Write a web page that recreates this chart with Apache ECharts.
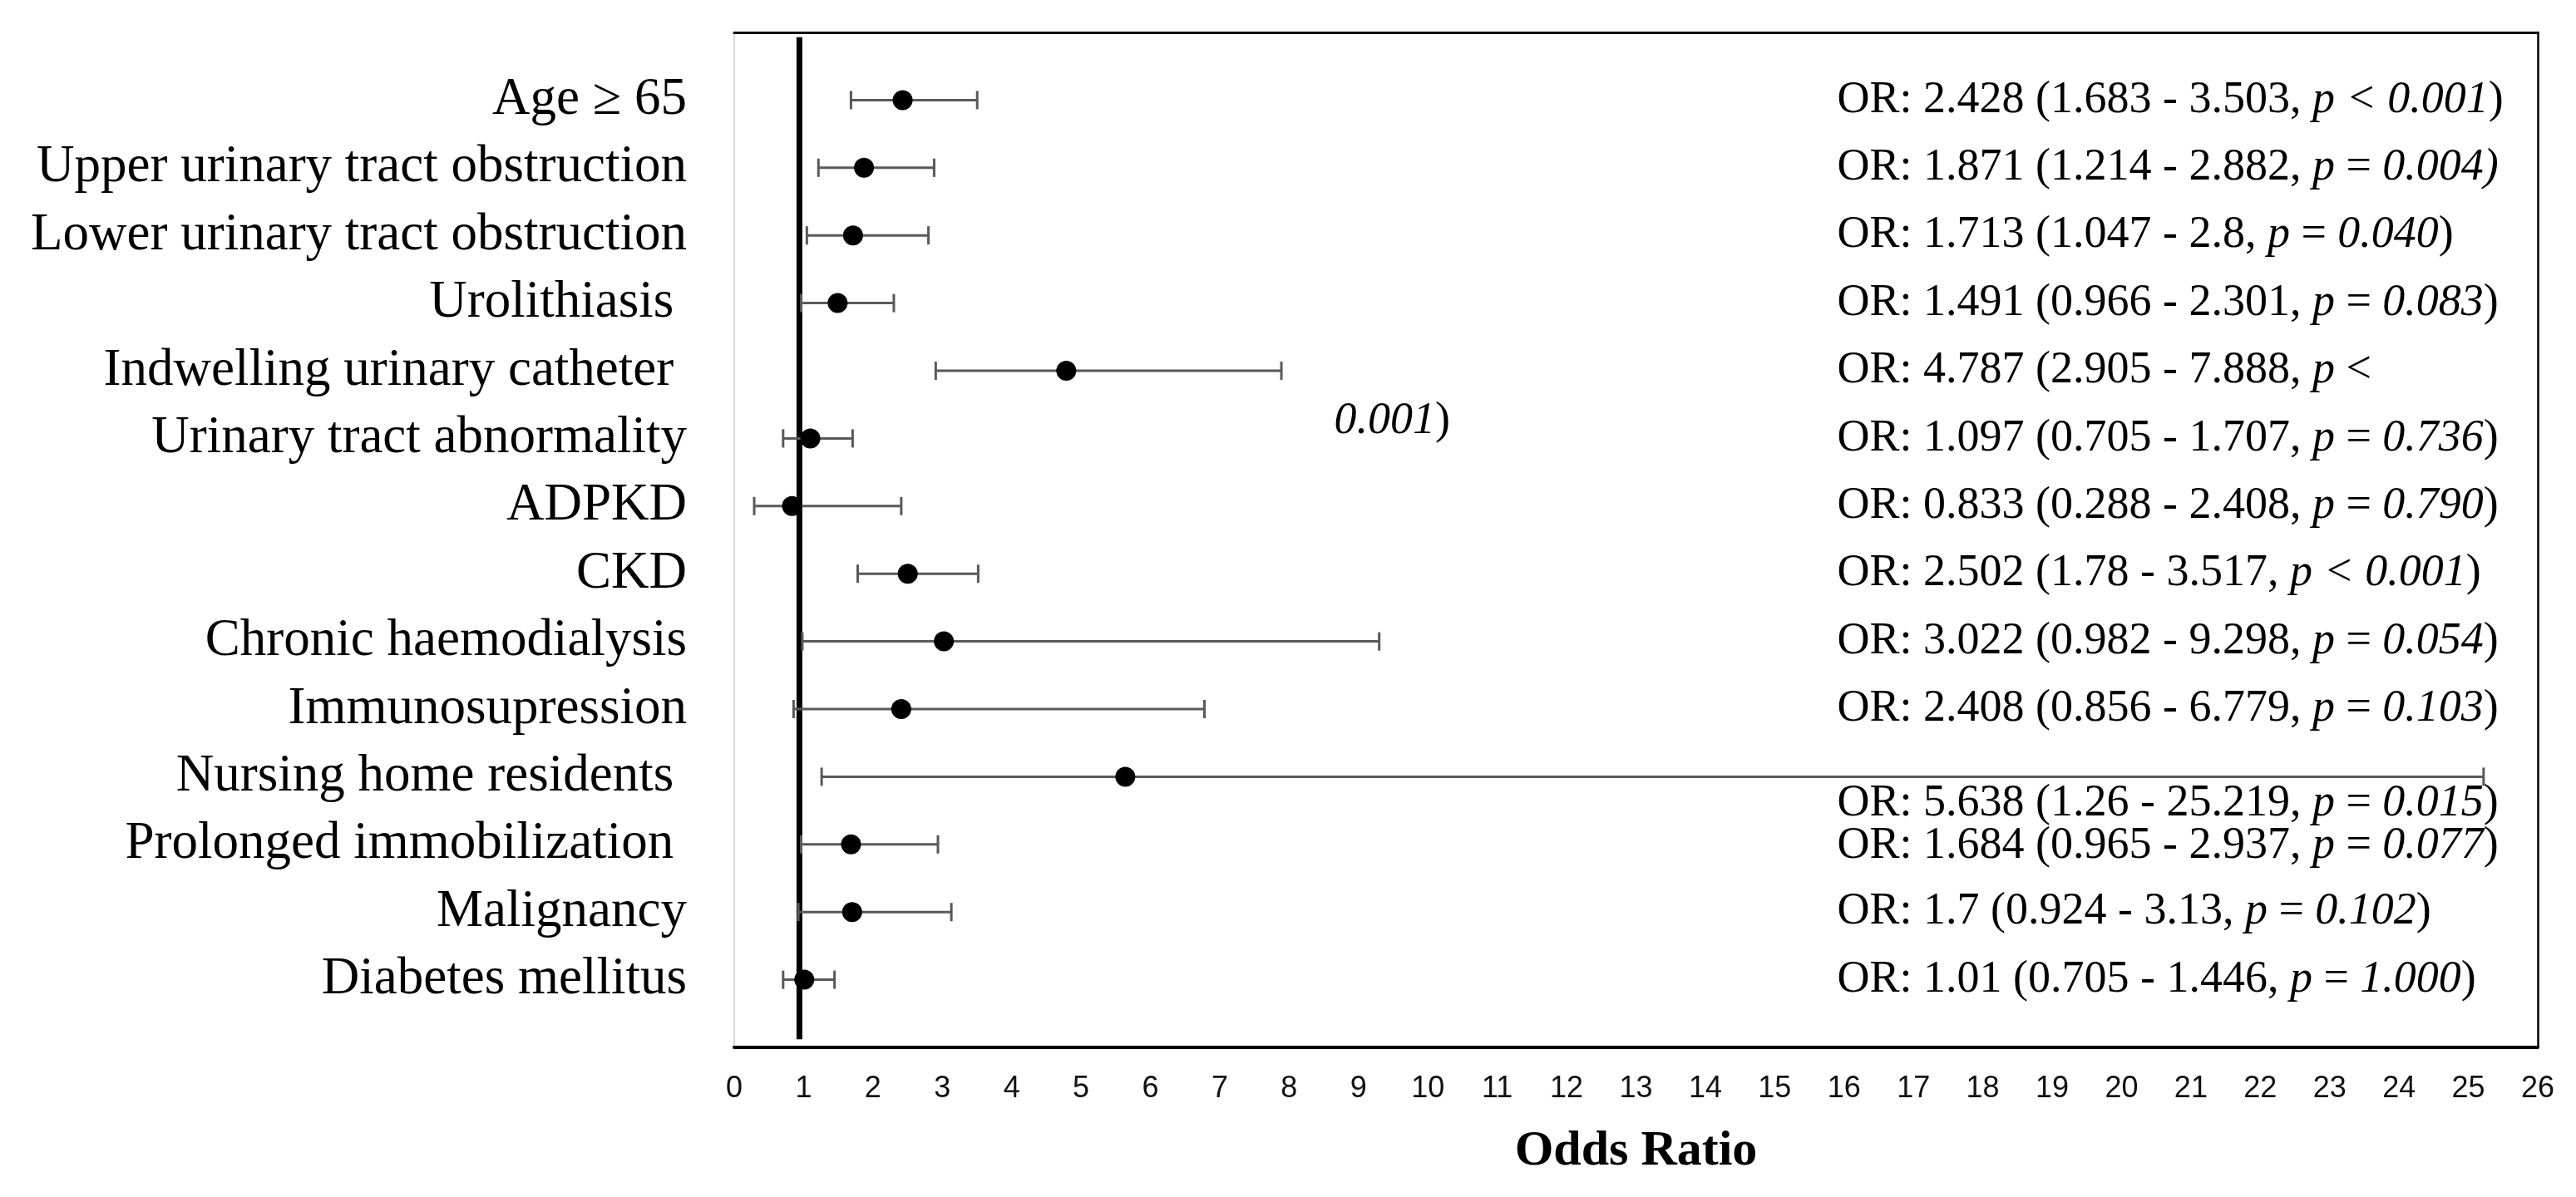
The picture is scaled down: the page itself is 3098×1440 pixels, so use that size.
<!DOCTYPE html>
<html>
<head>
<meta charset="utf-8">
<script src="https://cdn.jsdelivr.net/npm/echarts@6/dist/echarts.min.js"></script>
<style>
html,body{margin:0;padding:0;background:#fff;}
#chart{width:3098px;height:1440px;}
</style>
</head>
<body>
<div id="chart"></div>
<script>
// ---- data ----
const categories = [
  'Age \u2265 65',
  'Upper urinary tract obstruction',
  'Lower urinary tract obstruction',
  'Urolithiasis ',
  'Indwelling urinary catheter ',
  'Urinary tract abnormality',
  'ADPKD',
  'CKD',
  'Chronic haemodialysis',
  'Immunosupression',
  'Nursing home residents ',
  'Prolonged immobilization ',
  'Malignancy',
  'Diabetes mellitus'
];
const orValues = [2.428, 1.871, 1.713, 1.491, 4.787, 1.097, 0.833, 2.502, 3.022, 2.408, 5.638, 1.684, 1.7, 1.01];
const ciLow    = [1.683, 1.214, 1.047, 0.966, 2.905, 0.705, 0.288, 1.78, 0.982, 0.856, 1.26, 0.965, 0.924, 0.705];
const ciHigh   = [3.503, 2.882, 2.8, 2.301, 7.888, 1.707, 2.408, 3.517, 9.298, 6.779, 25.219, 2.937, 3.13, 1.446];
const orLabels = [
  'OR: 2.428 (1.683 - 3.503, {i|p < 0.001})',
  'OR: 1.871 (1.214 - 2.882, {i|p} = {i|0.004)}',
  'OR: 1.713 (1.047 - 2.8, {i|p} = {i|0.040})',
  'OR: 1.491 (0.966 - 2.301, {i|p} = {i|0.083})',
  'OR: 4.787 (2.905 - 7.888, {i|p} <',
  'OR: 1.097 (0.705 - 1.707, {i|p} = {i|0.736})',
  'OR: 0.833 (0.288 - 2.408, {i|p} = {i|0.790})',
  'OR: 2.502 (1.78 - 3.517, {i|p < 0.001})',
  'OR: 3.022 (0.982 - 9.298, {i|p} = {i|0.054})',
  'OR: 2.408 (0.856 - 6.779, {i|p} = {i|0.103})',
  'OR: 5.638 (1.26 - 25.219, {i|p} = {i|0.015})',
  'OR: 1.684 (0.965 - 2.937, {i|p} = {i|0.077})',
  'OR: 1.7 (0.924 - 3.13, {i|p} = {i|0.102})',
  'OR: 1.01 (0.705 - 1.446, {i|p} = {i|1.000})'
];
// label row offsets (in row units) as placed in the figure
const labelRowShift = [0,0,0,0,0,0,0,0,0,0,0.4,0.02,0,0];
const wrappedText = '{i|0.001})';   // overflow of the Indwelling catheter label
const wrappedAt = [8.65, 5.75];      // [odds ratio, row]
const referenceOR = 0.94;            // vertical reference line as drawn
const xTicks = {min: 0, max: 26, interval: 1};
const axisTitle = 'Odds Ratio';

// ---- chart ----
const rows = categories.map((c, i) => i + 1);
const labelX = 15.9;
const serif = 'Liberation Serif';
const orFont = 54;

const chart = echarts.init(document.getElementById('chart'), null, {renderer: 'canvas'});

const textStyleFor = (txt, fs) => ({
  text: txt,
  fill: '#000',
  fontSize: fs,
  fontFamily: serif,
  align: 'left',
  verticalAlign: 'middle',
  rich: {
    i: {fontStyle: 'italic', fontSize: fs, fontFamily: serif, fill: '#000'}
  }
});

const option = {
  backgroundColor: '#fff',
  animation: false,
  grid: {left: 883, right: 46, top: 39, bottom: 180, containLabel: false},
  xAxis: [
    {
      type: 'value', position: 'bottom',
      min: xTicks.min, max: xTicks.max, interval: xTicks.interval,
      axisLine: {show: true, onZero: false, lineStyle: {color: '#000', width: 4}},
      axisTick: {show: false},
      splitLine: {show: false},
      axisLabel: {color: '#111', fontSize: 36, fontFamily: 'Liberation Sans', margin: 32},
      name: axisTitle, nameLocation: 'middle', nameGap: 95,
      nameTextStyle: {color: '#000', fontSize: 60, fontWeight: 'bold', fontFamily: serif}
    },
    {
      type: 'value', position: 'top',
      min: xTicks.min, max: xTicks.max, interval: xTicks.interval,
      axisLine: {show: true, onZero: false, lineStyle: {color: '#000', width: 3}},
      axisTick: {show: false}, axisLabel: {show: false}, splitLine: {show: false}
    }
  ],
  yAxis: [
    {
      type: 'value', inverse: true, min: 0, max: 15, interval: 1, position: 'left',
      axisLine: {show: true, onZero: false, lineStyle: {color: '#d9d9d9', width: 2}},
      axisTick: {show: false},
      splitLine: {show: false},
      axisLabel: {
        color: '#000', fontSize: 63, fontFamily: serif, margin: 57,
        formatter: v => (v >= 1 && v <= categories.length) ? categories[v - 1] : ''
      }
    },
    {
      type: 'value', inverse: true, min: 0, max: 15, position: 'right',
      axisLine: {show: true, onZero: false, lineStyle: {color: '#000', width: 2.5}},
      axisTick: {show: false}, axisLabel: {show: false}, splitLine: {show: false}
    }
  ],
  series: [
    {
      // vertical reference line
      type: 'custom', xAxisIndex: 0, yAxisIndex: 0, silent: true, z: 3,
      data: [[referenceOR]],
      renderItem: (params, api) => {
        const x = api.value(0);
        const p1 = api.coord([x, 0.07]);
        const p2 = api.coord([x, 14.88]);
        return {type: 'line', shape: {x1: p1[0], y1: p1[1], x2: p2[0], y2: p2[1]},
                style: {stroke: '#000', lineWidth: 7}};
      }
    },
    {
      // confidence interval bars
      type: 'custom', xAxisIndex: 0, yAxisIndex: 0, silent: true, z: 4,
      data: rows.map((r, i) => [ciLow[i], ciHigh[i], r]),
      renderItem: (params, api) => {
        const lo = api.coord([api.value(0), api.value(2)]);
        const hi = api.coord([api.value(1), api.value(2)]);
        const h = 11;
        const st = {stroke: '#595959', lineWidth: 3};
        return {type: 'group', children: [
          {type: 'line', shape: {x1: lo[0], y1: lo[1], x2: hi[0], y2: hi[1]}, style: st},
          {type: 'line', shape: {x1: lo[0], y1: lo[1] - h, x2: lo[0], y2: lo[1] + h}, style: st},
          {type: 'line', shape: {x1: hi[0], y1: hi[1] - h, x2: hi[0], y2: hi[1] + h}, style: st}
        ]};
      }
    },
    {
      // point estimates
      type: 'scatter', xAxisIndex: 0, yAxisIndex: 0, z: 5,
      symbol: 'circle', symbolSize: 24,
      itemStyle: {color: '#000', opacity: 1},
      data: rows.map((r, i) => [orValues[i], r])
    },
    {
      // OR annotation texts
      type: 'custom', xAxisIndex: 0, yAxisIndex: 0, silent: true, z: 6,
      data: rows.map((r, i) => [labelX, r + labelRowShift[i], i]),
      renderItem: (params, api) => {
        const p = api.coord([api.value(0), api.value(1)]);
        const idx = api.value(2);
        return {type: 'text', x: p[0], y: p[1], style: textStyleFor(orLabels[idx], orFont)};
      }
    },
    {
      // wrapped remainder of a label
      type: 'custom', xAxisIndex: 0, yAxisIndex: 0, silent: true, z: 6,
      data: [wrappedAt],
      renderItem: (params, api) => {
        const p = api.coord([api.value(0), api.value(1)]);
        return {type: 'text', x: p[0], y: p[1], style: textStyleFor(wrappedText, orFont)};
      }
    }
  ]
};
chart.setOption(option);
</script>
</body>
</html>
